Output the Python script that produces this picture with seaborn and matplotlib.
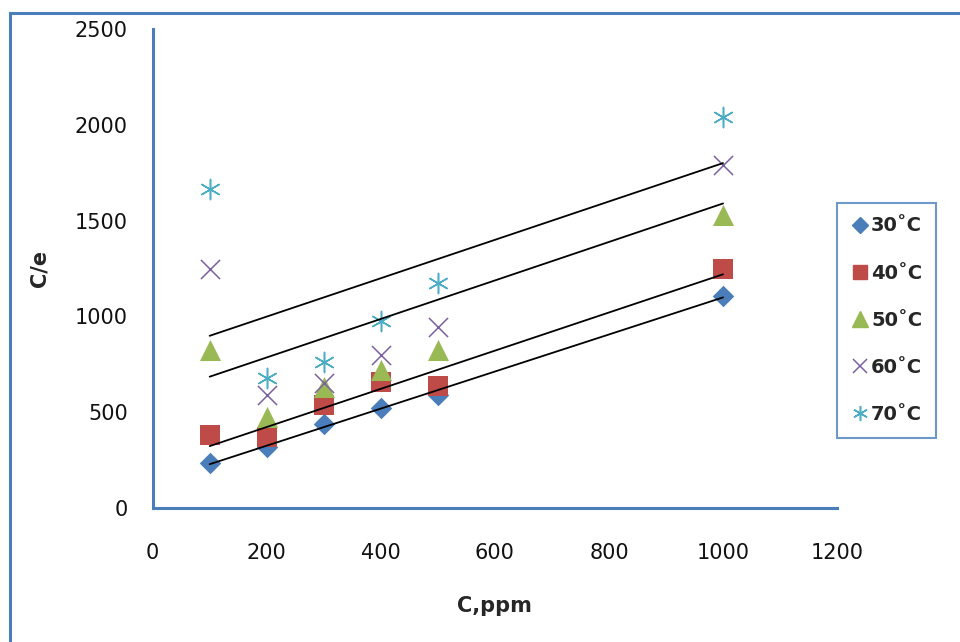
import numpy as np
import pandas as pd
import matplotlib
matplotlib.use("Agg")
import matplotlib.pyplot as plt
from matplotlib.patches import Rectangle
from matplotlib.lines import Line2D
import seaborn as sns

# data
conc = [100, 200, 300, 400, 500, 1000]
labels = ["30˚C", "40˚C", "50˚C", "60˚C", "70˚C"]
y30 = [235, 318, 438, 522, 590, 1107]
y40 = [381, 370, 538, 658, 637, 1248]
y50 = [825, 475, 632, 720, 825, 1530]
y60 = [1248, 590, 650, 799, 945, 1790]
y70 = [1665, 678, 762, 976, 1175, 2041]
series = [y30, y40, y50, y60, y70]
# which series carry a visible linear trendline
trend = [True, True, False, True, True]

colors = ["#4a7ebb", "#be4b48", "#98b954", "#7d60a0", "#4bacc6"]
markers = ["D", "s", "^", "x", (6, 2, 0)]
sizes = [120, 190, 230, 190, 210]

sns.set_style("white")
plt.rcParams["font.family"] = ["DejaVu Sans"]

fig = plt.figure(figsize=(9.6, 6.42), dpi=100)
ax = fig.add_axes([0.159, 0.2087, 0.713, 0.746])

for lab, ys, col, mk, sz, tr in zip(labels, series, colors, markers, sizes, trend):
    df = pd.DataFrame({"C": conc, "Ce": ys})
    if mk in ("x", (6, 2, 0)):
        sns.scatterplot(data=df, x="C", y="Ce", ax=ax, marker=mk, s=sz,
                        color=col, linewidth=1.1, zorder=3)
    else:
        sns.scatterplot(data=df, x="C", y="Ce", ax=ax, marker=mk, s=sz,
                        color=col, edgecolor=col, linewidth=0, zorder=3)
    if tr:
        sns.regplot(data=df, x="C", y="Ce", ax=ax, scatter=False, ci=None,
                    truncate=True, color="black",
                    line_kws={"linewidth": 1.3, "zorder": 4})

ax.set_xlim(0, 1200)
ax.set_ylim(0, 2500)
ax.set_xticks(range(0, 1201, 200))
ax.set_yticks(range(0, 2501, 500))

blue = "#4a7ebb"
for side in ["top", "right"]:
    ax.spines[side].set_visible(False)
for side in ["left", "bottom"]:
    ax.spines[side].set_color(blue)
    ax.spines[side].set_linewidth(2.2)
ax.tick_params(axis="both", direction="in", length=6, width=2.2, color=blue,
               labelsize=15, labelcolor="#111111")
ax.tick_params(axis="x", pad=25)
ax.tick_params(axis="y", pad=18)

ax.set_xlabel("C,ppm", fontsize=15, fontweight="bold", labelpad=24)
ax.set_ylabel("C/e", fontsize=15, fontweight="bold", labelpad=18)

handles = []
for lab, col, mk, sz in zip(labels, colors, markers, sizes):
    if mk in ("x", (6, 2, 0)):
        h = Line2D([], [], linestyle="none", marker=mk, color=col,
                   markersize=np.sqrt(sz) * 0.75, markeredgewidth=1.1)
    else:
        h = Line2D([], [], linestyle="none", marker=mk, color=col,
                   markeredgecolor=col, markersize=np.sqrt(sz) * 0.78)
    handles.append(h)
leg = ax.legend(handles, labels, loc="upper left", bbox_to_anchor=(0.872, 0.684),
                bbox_transform=fig.transFigure, borderaxespad=0, frameon=True,
                fancybox=False, labelspacing=1.45, handletextpad=0.05,
                handlelength=1.0, borderpad=0.7,
                prop={"size": 14, "weight": "bold"})
leg.get_frame().set_edgecolor(blue)
leg.get_frame().set_linewidth(1.5)

# outer chart border (cropped at right and bottom in the reference)
fig.patches.append(Rectangle((10 / 960, -0.05), 1.1, 1 - 13 / 642 + 0.05,
                             transform=fig.transFigure, fill=False,
                             edgecolor=blue, linewidth=2.2))

fig.savefig("out.png", dpi=100)
